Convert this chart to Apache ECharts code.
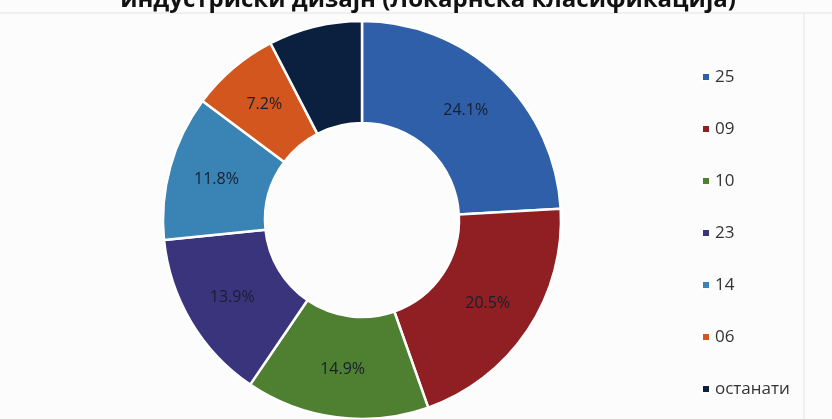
<!DOCTYPE html>
<html>
<head>
<meta charset="utf-8">
<script src="https://cdn.jsdelivr.net/npm/echarts@6/dist/echarts.min.js"></script>
<style>
  html, body { margin: 0; padding: 0; background: #fcfcfd; }
  #chart { width: 832px; height: 419px; }
</style>
</head>
<body>
<div id="chart"></div>
<script>
  // класи по Локарнска класификација
  var categories = ['25', '09', '10', '23', '14', '06', 'останати'];
  var shares = [24.1, 20.5, 14.9, 13.9, 11.8, 7.2, 7.6];
  var colors = ['#2f5fa8', '#8f1f23', '#4f7f30', '#39347c', '#3a84b5', '#d2561e', '#0b1f3f'];

  var chart = echarts.init(document.getElementById('chart'));

  var pieData = categories.map(function (name, i) {
    var item = { name: name, value: shares[i], itemStyle: { color: colors[i] } };
    if (name === 'останати') item.label = { show: false };
    return item;
  });

  chart.setOption({
    backgroundColor: '#fcfcfd',
    animation: false,
    title: {
      text: 'индустриски дизајн (Локарнска класификација)',
      left: 423,
      textAlign: 'center',
      top: -17,
      textStyle: {
        fontFamily: 'Open Sans',
        fontWeight: 'bold',
        fontSize: 24,
        color: '#111111'
      }
    },
    legend: {
      orient: 'vertical',
      left: 696,
      top: 62,
      itemWidth: 8,
      itemHeight: 8,
      itemGap: 32,
      icon: 'rect',
      textStyle: {
        fontFamily: 'Open Sans',
        fontSize: 17,
        color: '#333333',
        lineHeight: 20
      },
      data: categories
    },
    graphic: [
      { type: 'line', shape: { x1: 0, y1: 13, x2: 832, y2: 13 }, style: { stroke: '#e4e4e8', lineWidth: 1 } },
      { type: 'line', shape: { x1: 804, y1: 13, x2: 804, y2: 419 }, style: { stroke: '#e4e4ea', lineWidth: 1 } }
    ],
    series: [{
      type: 'pie',
      center: [362, 220],
      radius: [97, 199],
      startAngle: 90,
      clockwise: true,
      itemStyle: { borderColor: '#ffffff', borderWidth: 2.5 },
      label: {
        show: true,
        position: 'inside',
        formatter: function (p) { return p.value.toFixed(1) + '%'; },
        fontFamily: 'Open Sans',
        fontSize: 16,
        color: '#16202e'
      },
      labelLine: { show: false },
      data: pieData
    }]
  });
</script>
</body>
</html>
